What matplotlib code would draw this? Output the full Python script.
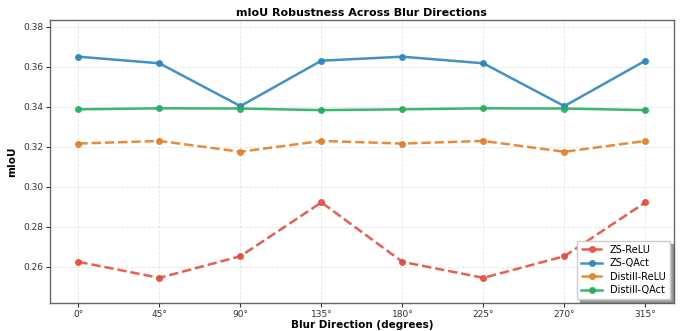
import numpy as np
import matplotlib.pyplot as plt

# blur directions and mIoU per model variant
directions = ['0°', '45°', '90°', '135°', '180°', '225°', '270°', '315°']
zs_relu = [0.2625, 0.2545, 0.2653, 0.2922, 0.2625, 0.2545, 0.2653, 0.2922]
zs_qact = [0.3650, 0.3617, 0.3403, 0.3630, 0.3650, 0.3617, 0.3403, 0.3630]
distill_relu = [0.3216, 0.3229, 0.3175, 0.3229, 0.3216, 0.3229, 0.3175, 0.3229]
distill_qact = [0.3387, 0.3392, 0.3391, 0.3383, 0.3387, 0.3392, 0.3391, 0.3383]

x = np.arange(len(directions))

fig, ax = plt.subplots(figsize=(6.86, 3.31), dpi=100)

ax.plot(x, zs_relu, '--o', color='#e74c3c', lw=1.8, ms=4, alpha=0.9, label='ZS-ReLU')
ax.plot(x, zs_qact, '-o', color='#2e86c1', lw=1.8, ms=4, alpha=0.9, label='ZS-QAct')
ax.plot(x, distill_relu, '--o', color='#e67e22', lw=1.8, ms=4, alpha=0.9, label='Distill-ReLU')
ax.plot(x, distill_qact, '-o', color='#27ae60', lw=1.8, ms=4, alpha=0.9, label='Distill-QAct')

ax.set_xticks(x)
ax.set_xticklabels(directions)
ax.set_ylim(0.242, 0.3834)
ax.set_yticks([0.26, 0.28, 0.30, 0.32, 0.34, 0.36, 0.38])
ax.tick_params(labelsize=6.5, colors='#333333', length=3, pad=2)

ax.set_xlabel('Blur Direction (degrees)', fontsize=7.5, fontweight='bold', labelpad=1)
ax.set_ylabel('mIoU', fontsize=7.5, fontweight='bold')
ax.set_title('mIoU Robustness Across Blur Directions', fontsize=8, fontweight='bold', pad=3)

ax.grid(True, ls='--', lw=0.6, color='#dddddd', alpha=0.8)
for s in ax.spines.values():
    s.set_color('#666666')
    s.set_linewidth(1.0)

ax.legend(loc='lower right', fontsize=7, shadow=True, fancybox=False,
          framealpha=1, edgecolor='#cccccc', handlelength=2.2,
          borderaxespad=0.4, labelspacing=0.35)

fig.subplots_adjust(left=0.073, right=0.982, top=0.94, bottom=0.085)
fig.savefig('out.png', dpi=100)
